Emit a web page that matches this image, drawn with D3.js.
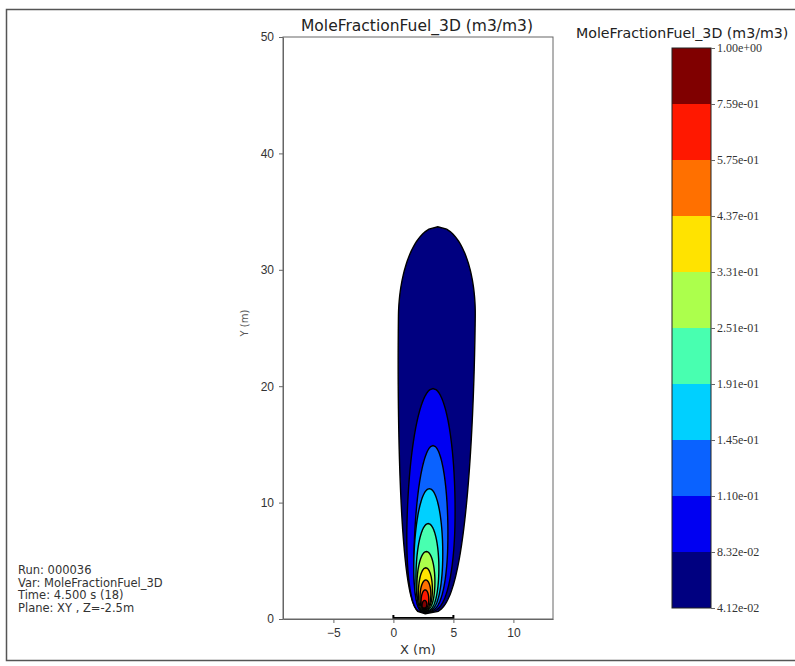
<!DOCTYPE html>
<html>
<head>
<meta charset="utf-8">
<script src="https://cdn.jsdelivr.net/npm/d3@7"></script>
<style>
  body { margin: 0; background: #fff; }
  svg { font-family: "DejaVu Sans", sans-serif; }
  .axis path, .axis line { stroke: #666; }
  .axis text { fill: #333; font-size: 12px; }
</style>
</head>
<body>
<svg id="chart" width="795" height="666"></svg>
<script>
// colour levels (m3/m3)
const levels = [0.0412, 0.0832, 0.110, 0.145, 0.191, 0.251, 0.331, 0.437, 0.575, 0.759, 1.00];
const levelLabels = ["4.12e-02", "8.32e-02", "1.10e-01", "1.45e-01", "1.91e-01", "2.51e-01",
  "3.31e-01", "4.37e-01", "5.75e-01", "7.59e-01", "1.00e+00"];
const bandColors = ["#000080", "#0000f2", "#0a62ff", "#00d0ff", "#48ffb0", "#acff4c",
  "#ffe300", "#ff7000", "#ff1800", "#800000"];

// contour extents, one per level (metres)
const contourBottom = [0.45, 0.55, 0.6, 0.65, 0.7, 0.75, 0.8, 0.85, 0.9, 0.95];
const contourTop = [33.7, 19.8, 14.9, 11.2, 8.2, 5.8, 4.4, 3.35, 2.5, 1.6];
const contourWidest = [26, 8, 6, 5, 4, 3, 2.4, 2.0, 1.6, 1.2];
const contourHalfWidth = [3.2, 2.0, 1.4, 1.2, 0.95, 0.75, 0.58, 0.45, 0.32, 0.2];
const contourXBottom = [2.65, 2.6, 2.6, 2.6, 2.6, 2.55, 2.55, 2.55, 2.55, 2.55];
const contourXTop = [3.7, 3.3, 3.3, 3.0, 2.9, 2.75, 2.7, 2.7, 2.65, 2.6];

const xTicks = [-5, 0, 5, 10];
const yTicks = [0, 10, 20, 30, 40, 50];
const sourceX = [0, 5];

const infoLines = ["Run: 000036", "Var: MoleFractionFuel_3D", "Time: 4.500 s (18)", "Plane: XY , Z=-2.5m"];

const svg = d3.select("#chart");

// outer frame of the picture
svg.append("rect")
  .attr("x", 6.5).attr("y", 9.5).attr("width", 800).attr("height", 651)
  .attr("fill", "none").attr("stroke", "#555").attr("stroke-width", 1.5);

const x = d3.scaleLinear().domain([-9.2, 13.3]).range([283, 553]);
const y = d3.scaleLinear().domain([0, 50]).range([619, 37]);

svg.append("defs").append("clipPath").attr("id", "plotclip")
  .append("rect").attr("x", 283).attr("y", 37).attr("width", 270).attr("height", 582);

function contourPoints(i) {
  const yb = contourBottom[i], yt = contourTop[i], yw = contourWidest[i];
  const W = contourHalfWidth[i];
  const n = 160;
  const right = [], left = [];
  for (let k = 0; k <= n; k++) {
    const Y = yb + (yt - yb) * k / n;
    let w;
    if (Y <= yw) {
      const s = (Y - yb) / (yw - yb);
      w = W * Math.pow(Math.max(0, 1 - (1 - s) * (1 - s)), 0.32);
    } else {
      const s = (Y - yw) / (yt - yw);
      w = W * Math.sqrt(Math.max(0, 1 - s * s));
    }
    const t = (Y - yb) / (yt - yb);
    const c = contourXBottom[i] + (contourXTop[i] - contourXBottom[i]) * Math.pow(t, 0.3);
    right.push([c + w, Y]);
    left.push([c - w, Y]);
  }
  return right.concat(left.reverse());
}

const line = d3.line()
  .x(d => x(d[0]))
  .y(d => y(d[1]))
  .curve(d3.curveLinearClosed);

const plot = svg.append("g").attr("clip-path", "url(#plotclip)");
plot.selectAll("path.band")
  .data(d3.range(contourTop.length))
  .join("path")
  .attr("class", "band")
  .attr("d", i => line(contourPoints(i)))
  .attr("fill", i => bandColors[i])
  .attr("stroke", "#000")
  .attr("stroke-width", 1.4);

// source segment
svg.append("path")
  .attr("d", `M${x(sourceX[0])},${y(0) - 4}V${y(0) - 1}H${x(sourceX[1])}V${y(0) - 4}`)
  .attr("fill", "none").attr("stroke", "#000").attr("stroke-width", 2);

// axes
svg.append("g").attr("class", "axis")
  .attr("transform", `translate(0,${y(0)})`)
  .call(d3.axisBottom(x).tickValues(xTicks).tickSize(4).tickSizeOuter(0).tickPadding(5));
svg.append("g").attr("class", "axis")
  .attr("transform", `translate(${x.range()[0]},0)`)
  .call(d3.axisLeft(y).tickValues(yTicks).tickSize(4).tickSizeOuter(0).tickPadding(5));

svg.append("rect")
  .attr("x", 283).attr("y", 37).attr("width", 270).attr("height", 582)
  .attr("fill", "none").attr("stroke", "#666").attr("stroke-width", 1);

svg.append("text").attr("x", 417).attr("y", 31)
  .attr("text-anchor", "middle").attr("font-size", 15.5).attr("fill", "#222")
  .text("MoleFractionFuel_3D (m3/m3)");
svg.append("text").attr("x", 418).attr("y", 654)
  .attr("text-anchor", "middle").attr("font-size", 13).attr("fill", "#333")
  .text("X (m)");
svg.append("text").attr("transform", "translate(248,323) rotate(-90)")
  .attr("text-anchor", "middle").attr("font-size", 10).attr("fill", "#555")
  .text("Y (m)");

// colour bar
const cb = d3.scaleLinear().domain([0, levels.length - 1]).range([608, 48]);
const cbX = 672, cbW = 39;
svg.append("g").selectAll("rect")
  .data(bandColors)
  .join("rect")
  .attr("x", cbX)
  .attr("y", (d, i) => cb(i + 1))
  .attr("width", cbW)
  .attr("height", (d, i) => cb(i) - cb(i + 1))
  .attr("fill", d => d);
svg.append("rect")
  .attr("x", cbX).attr("y", cb(levels.length - 1)).attr("width", cbW).attr("height", cb(0) - cb(levels.length - 1))
  .attr("fill", "none").attr("stroke", "#222").attr("stroke-width", 1);

const cbAxis = d3.axisRight(cb)
  .tickValues(d3.range(levels.length))
  .tickFormat(i => levelLabels[i])
  .tickSize(4).tickSizeOuter(0).tickPadding(2);
svg.append("g").attr("class", "axis cbaxis")
  .attr("transform", `translate(${cbX + cbW},0)`)
  .call(cbAxis)
  .call(g => g.select(".domain").remove())
  .call(g => g.selectAll("text").attr("font-size", 12).attr("font-family", "'Liberation Serif', serif"));

svg.append("text").attr("x", 576).attr("y", 38)
  .attr("font-size", 14.2).attr("fill", "#222")
  .text("MoleFractionFuel_3D (m3/m3)");

// run info
svg.append("g").selectAll("text")
  .data(infoLines)
  .join("text")
  .attr("x", 18)
  .attr("y", (d, i) => 574 + i * 12.6)
  .attr("font-size", 11.5).attr("fill", "#333")
  .text(d => d);
</script>
</body>
</html>
